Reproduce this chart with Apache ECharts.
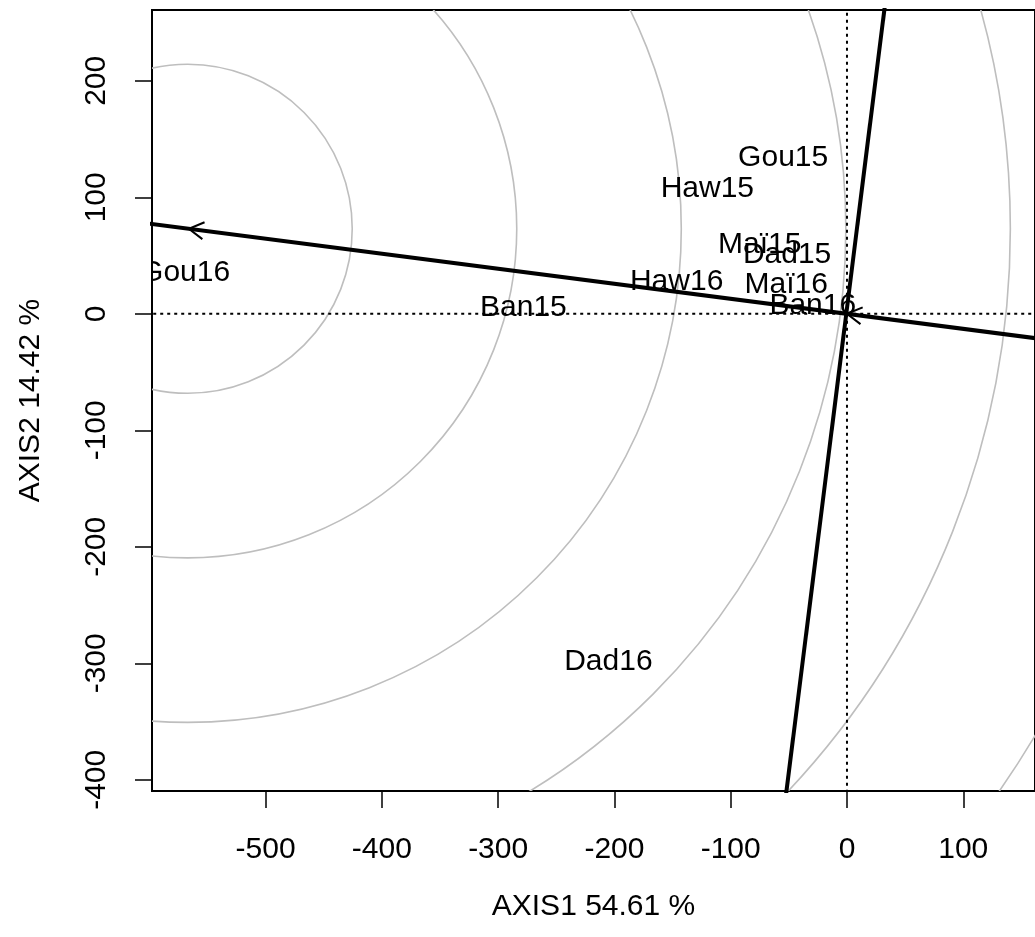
<!DOCTYPE html>
<html><head><meta charset="utf-8">
<script src="https://cdn.jsdelivr.net/npm/echarts@6/dist/echarts.min.js"></script>
<style>html,body{margin:0;padding:0;background:#fff}#c{width:1035px;height:937px}</style>
</head><body><div id="c"></div>
<script>
// ---- data ----
const xTicks = [-500, -400, -300, -200, -100, 0, 100];
const yTicks = [-400, -300, -200, -100, 0, 100, 200];
const labelNames = ['Gou15', 'Haw15', 'Maï15', 'Dad15', 'Haw16', 'Maï16', 'Ban16', 'Gou16', 'Ban15', 'Dad16'];
const labelX = [-54.9, -120.1, -75.1, -51.5, -146.5, -52.2, -29.4, -569.2, -278.3, -205.2];
const labelY = [135.8, 109.1, 61.4, 52.8, 29.2, 26.8, 8.9, 36.8, 7.0, -297.2];
const circleCenter = [-567, 73];
const circleRadii = [141.5, 283, 424.5, 566, 707.5, 849, 990.5];
const axis1Line = [[-700, 90.3], [300, -38.7]];
const axis2Line = [[49.6, 400], [-63.4, -500]];
const zeroVLine = [[0, -1000], [0, 1000]];
const zeroHLine = [[-1000, 0], [1000, 0]];
const arrowSegs = [[0, 0, -566, 73], [10, -1.3, 0, 0]]; // [fromX, fromY, tipX, tipY]

const FONT = 'Liberation Sans, Arial, Helvetica, sans-serif';
const chart = echarts.init(document.getElementById('c'), null, {renderer: 'canvas'});

const option = {
  animation: false,
  backgroundColor: '#fff',
  grid: {left: 152, top: 10, width: 885, height: 781, show: true, borderColor: '#000', borderWidth: 2, backgroundColor: 'transparent'},
  xAxis: {
    type: 'value', min: -597.7, max: 161.7,
    axisLine: {show: false, onZero: false},
    axisTick: {show: true, length: 17, lineStyle: {color: '#000', width: 1.5}, customValues: xTicks},
    axisLabel: {customValues: xTicks, fontSize: 30, color: '#000', margin: 44, fontFamily: FONT},
    splitLine: {show: false},
    name: 'AXIS1 54.61 %', nameLocation: 'middle', nameGap: 101,
    nameTextStyle: {fontSize: 30, color: '#000', fontFamily: FONT}
  },
  yAxis: {
    type: 'value', min: -409.6, max: 260.8,
    axisLine: {show: false, onZero: false},
    axisTick: {show: true, length: 17, lineStyle: {color: '#000', width: 1.5}, customValues: yTicks},
    axisLabel: {customValues: yTicks, fontSize: 30, color: '#000', margin: 40, rotate: 90, fontFamily: FONT},
    splitLine: {show: false},
    name: 'AXIS2 14.42 %', nameLocation: 'middle', nameGap: 106, nameRotate: 90,
    nameTextStyle: {fontSize: 30, color: '#000', fontFamily: FONT}
  },
  series: [
    {
      type: 'custom', coordinateSystem: 'cartesian2d', clip: true, silent: true, z: 1,
      data: circleRadii.map(r => [circleCenter[0], circleCenter[1], r]),
      encode: {x: 0, y: 1},
      renderItem: function (params, api) {
        const c = api.coord([api.value(0), api.value(1)]);
        const s = api.size([api.value(2), api.value(2)]);
        return {type: 'circle', shape: {cx: c[0], cy: c[1], r: s[0]}, style: {stroke: '#BEBEBE', lineWidth: 1.6, fill: null}};
      }
    },
    {type: 'line', data: zeroVLine, clip: true, silent: true, symbol: 'none', z: 2,
      lineStyle: {color: '#000', width: 2, type: [3, 4]}},
    {type: 'line', data: zeroHLine, clip: true, silent: true, symbol: 'none', z: 2,
      lineStyle: {color: '#000', width: 2, type: [3, 4]}},
    {
      type: 'custom', coordinateSystem: 'cartesian2d', clip: true, silent: true, z: 3,
      data: labelNames.map((n, i) => [labelX[i], labelY[i]]),
      encode: {x: 0, y: 1},
      renderItem: function (params, api) {
        const p = api.coord([api.value(0), api.value(1)]);
        return {type: 'text', x: p[0], y: p[1] + 2, style: {text: labelNames[params.dataIndex], fill: '#000', fontSize: 30, fontFamily: FONT, align: 'center', verticalAlign: 'middle'}};
      }
    },
    {type: 'line', data: axis1Line, clip: true, silent: true, symbol: 'none', z: 4,
      lineStyle: {color: '#000', width: 4}},
    {type: 'line', data: axis2Line, clip: true, silent: true, symbol: 'none', z: 4,
      lineStyle: {color: '#000', width: 4}},
    {
      type: 'custom', coordinateSystem: 'cartesian2d', clip: true, silent: true, z: 5,
      data: arrowSegs,
      encode: {x: [0, 2], y: [1, 3]},
      renderItem: function (params, api) {
        const a = api.coord([api.value(0), api.value(1)]);
        const b = api.coord([api.value(2), api.value(3)]);
        const ang = Math.atan2(a[1] - b[1], a[0] - b[0]);
        const L = 17, h = Math.PI / 6;
        const p1 = [b[0] + L * Math.cos(ang + h), b[1] + L * Math.sin(ang + h)];
        const p2 = [b[0] + L * Math.cos(ang - h), b[1] + L * Math.sin(ang - h)];
        return {type: 'polyline', shape: {points: [p1, b, p2]}, style: {stroke: '#000', lineWidth: 2, fill: null}};
      }
    }
  ]
};
chart.setOption(option);
</script>
</body></html>
